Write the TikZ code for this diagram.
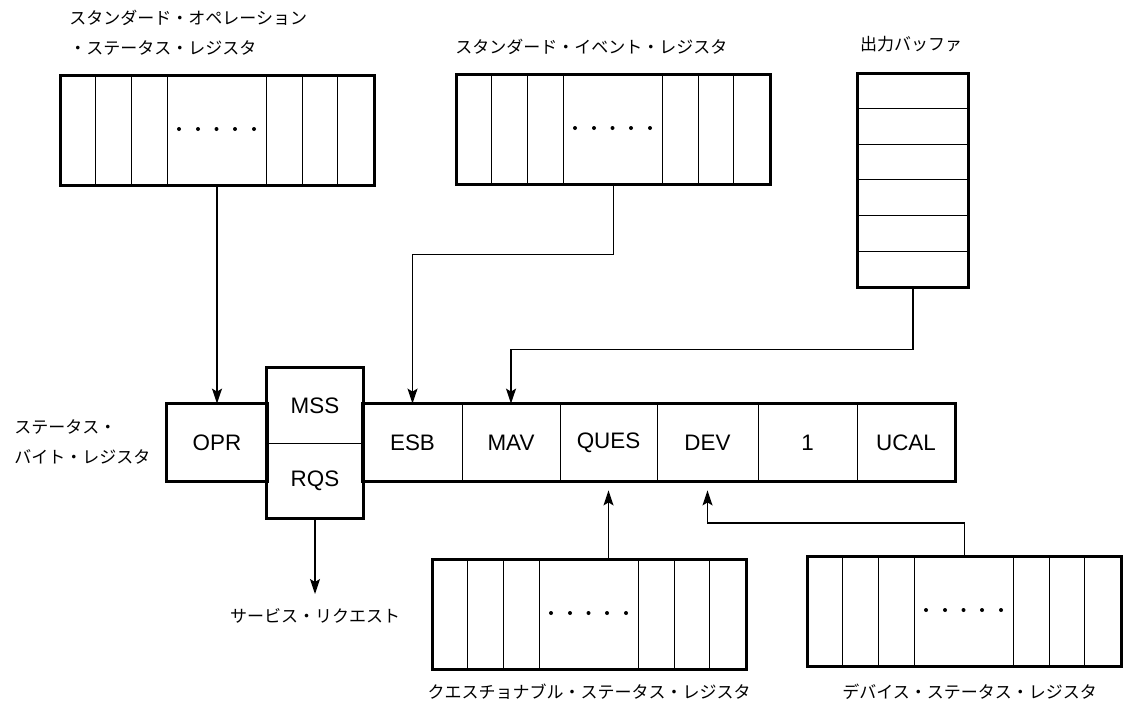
\documentclass[tikz,border=0pt]{standalone}
\usepackage{fontspec}
\setmainfont{Liberation Sans}
\newfontfamily\jpfont{Noto Sans CJK JP}
\usetikzlibrary{arrows.meta,calc}

\tikzset{
  outerline/.style={line width=1.3pt},
  innerline/.style={line width=0.5pt},
  conn/.style={line width=0.7pt},
  arr/.style={conn,-{Stealth[length=7.5pt,width=5pt,inset=1.5pt]}},
  cell/.style={inner sep=0pt, minimum height=38.5pt, font=\fontsize{11.2pt}{13pt}\selectfont},
  jlabel/.style={font=\jpfont\fontsize{8.5pt}{15pt}\selectfont, inner sep=0pt, align=left},
  regbox/.style={draw, outerline, minimum width=157pt, minimum height=55pt, inner sep=0pt, anchor=north west},
}

\newcommand\regdraw[3]{%
  \begin{scope}[shift={(#2,#3)}]
    \foreach \k in {36,72,108,207,243,278} \draw[innerline] (\k,0) -- (\k,110);
    \foreach \k in {120,139,157.5,176,195} \fill (\k,55) circle[radius=1pt];
  \end{scope}
  \node[regbox] (#1) at (#2,#3) {};
}

\begin{document}
\begin{tikzpicture}[x=0.5pt,y=-0.5pt]
\useasboundingbox (0,0) rectangle (1123,709);

% small registers
\regdraw{sor}{59}{74}
\regdraw{ser}{455}{73}
\regdraw{qsr}{431}{558}
\regdraw{dsr}{806}{555}

% output buffer
\foreach \k in {108,144,179,215,251} \draw[innerline] (856,\k) -- (967,\k);
\node[draw, outerline, minimum width=55.5pt, minimum height=107pt, inner sep=0pt, anchor=north west] (buf) at (856,72) {};

% status byte register cells
\node[cell, minimum width=50pt] (opr) at (217,442.5) {OPR};
\node[cell, minimum width=48pt, minimum height=37.5pt] (mss) at (315,405.5) {MSS};
\node[cell, minimum width=48pt, minimum height=37.5pt] (rqs) at (315,480.5) {RQS};
\node[cell, minimum width=49.5pt] (esb) at (412.5,442.5) {ESB};
\node[cell, minimum width=49pt] (mav) at (511,442.5) {MAV};
\node[cell, minimum width=48.5pt] (ques) at (608.5,442.5) {QUES};
\node[cell, minimum width=50.5pt] (dev) at (707.5,442.5) {DEV};
\node[cell, minimum width=49.5pt] (one) at (807.5,442.5) {1};
\node[cell, minimum width=49pt] (ucal) at (906,442.5) {UCAL};

\draw[innerline] (mss.south west) -- (mss.south east);
\foreach \c in {esb,mav,ques,dev,one} \draw[innerline] (\c.north east) -- (\c.south east);
\draw[outerline] (opr.north west) rectangle (opr.south east);
\draw[outerline] (mss.north west) rectangle (rqs.south east);
\draw[outerline] (esb.north west) rectangle (ucal.south east);

% labels
\node[jlabel, anchor=west] (sorlab) at (69,33) {スタンダード・オペレーション\\・ステータス・レジスタ};
\node[jlabel, anchor=west] (serlab) at (455,47) {スタンダード・イベント・レジスタ};
\node[jlabel] (buflab) at (911,44) {出力バッファ};
\node[jlabel, anchor=west] (sbrlab) at (14,442) {ステータス・\\バイト・レジスタ};
\node[jlabel, anchor=north] (svc) at (315,608) {サービス・リクエスト};
\node[jlabel] (qsrlab) at (589,692) {クエスチョナブル・ステータス・レジスタ};
\node[jlabel, anchor=west] (dsrlab) at (842,692) {デバイス・ステータス・レジスタ};

% connectors
\draw[arr] (opr.north |- sor.south) -- (opr.north);
\draw[arr] (ser.south) -- ++(0,69) -| (esb.north);
\draw[arr] (buf.south) -- ++(0,61) -| (mav.north);
\draw[arr, shorten >=7pt] (rqs.south) -- (svc.north);
\draw[arr, shorten >=4.5pt] (ques.south |- qsr.north) -- (ques.south);
\draw[arr, shorten >=4.5pt] (dsr.north) -- ++(0,-32) -| (dev.south);
\end{tikzpicture}
\end{document}
